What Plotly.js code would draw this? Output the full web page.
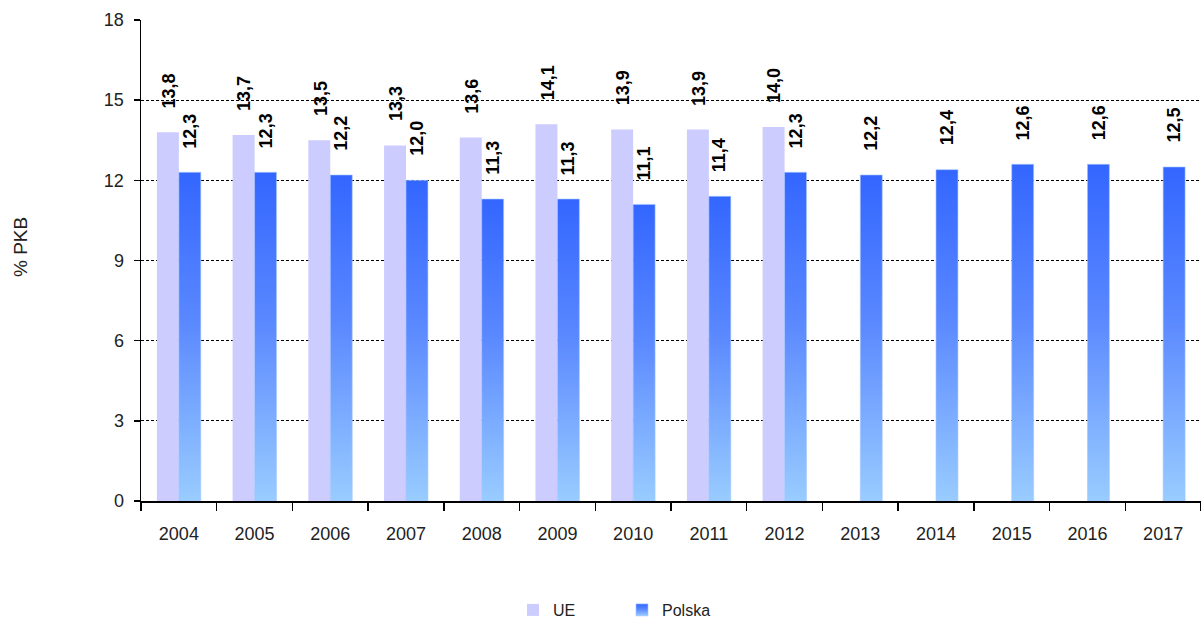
<!DOCTYPE html>
<html>
<head>
<meta charset="utf-8">
<script src="https://cdn.plot.ly/plotly-3.0.1.min.js"></script>
<style>html,body{margin:0;padding:0;background:#fff;}#chart{width:1201px;height:624px;}</style>
</head>
<body>
<div id="chart"></div>
<script>
const years = ['2004','2005','2006','2007','2008','2009','2010','2011','2012','2013','2014','2015','2016','2017'];
const ue = [13.8,13.7,13.5,13.3,13.6,14.1,13.9,13.9,14.0,null,null,null,null,null];
const polska = [12.3,12.3,12.2,12.0,11.3,11.3,11.1,11.4,12.3,12.2,12.4,12.6,12.6,12.5];
const yTicks = [0,3,6,9,12,15,18];
const seriesNames = ['UE','Polska'];
const yTitle = '% PKB';

const fmt = v => v.toFixed(1).replace('.', ',');
const regular = 'Liberation Sans, Arial, sans-serif';

const traces = [
  {type:'bar', name:seriesNames[0], x:years, y:ue, marker:{color:'#CCCCFF', line:{width:0}}, hoverinfo:'x+y'},
  {type:'bar', name:seriesNames[1], x:years, y:polska, marker:{color:'#5F8CFF', line:{width:0.6, color:'#A8C8FF'}}, hoverinfo:'x+y'}
];

const annotations = [];
[[ue,-10],[polska,11]].forEach(([arr,dx]) => {
  arr.forEach((v,i) => {
    if (v === null) return;
    annotations.push({
      x: i, y: v, xref:'x', yref:'y', text: fmt(v), showarrow:false,
      textangle:-90, xanchor:'center', yanchor:'bottom', xshift:dx, yshift:22,
      font:{family:regular, size:18, color:'#000', weight:'bold'}
    });
  });
});
annotations.push({
  text: yTitle, xref:'paper', yref:'paper', x:(20-141)/1060, y:(501-247)/481,
  showarrow:false, textangle:-90, xanchor:'center', yanchor:'middle',
  font:{family:regular, size:19, color:'#222'}
});

const layout = {
  width:1201, height:624,
  margin:{l:141, r:0, t:20, b:123},
  paper_bgcolor:'#fff', plot_bgcolor:'#fff',
  separators:', ',
  barmode:'group', bargap:0.42, bargroupgap:0,
  showlegend:true,
  legend:{orientation:'h', xref:'container', yref:'container', x:513/1201, xanchor:'left', y:(624-610)/624, yanchor:'middle',
          font:{family:regular, size:16, color:'#222'}, entrywidth:64, entrywidthmode:'pixels', bgcolor:'rgba(0,0,0,0)'},
  xaxis:{type:'category', range:[-0.5, years.length-0.5], autorange:false, showgrid:false, showline:true, linecolor:'#000', linewidth:1.5,
         ticks:'outside', tickson:'boundaries', ticklen:8, tickcolor:'#000', tickwidth:1.5, tickangle:0,
         tickfont:{family:regular, size:18, color:'#222'}, ticklabelstandoff:16, zeroline:false, fixedrange:true},
  yaxis:{range:[0,18], autorange:false, tickvals:yTicks, ticktext:yTicks.map(String), showgrid:true, gridcolor:'#000', gridwidth:1, griddash:'3px,2px',
         showline:true, linecolor:'#000', linewidth:1.5, ticks:'outside', ticklen:6, tickcolor:'#000', tickwidth:1.5,
         tickfont:{family:regular, size:18, color:'#222'}, ticklabelstandoff:6, zeroline:false, fixedrange:true},
  annotations: annotations
};

Plotly.newPlot('chart', traces, layout, {displayModeBar:false, staticPlot:true}).then(gd => {
  const svg = gd.querySelector('.main-svg');
  const ns = 'http://www.w3.org/2000/svg';
  let defs = svg.querySelector('defs');
  if (!defs) { defs = document.createElementNS(ns,'defs'); svg.insertBefore(defs, svg.firstChild); }
  const g = document.createElementNS(ns,'linearGradient');
  g.setAttribute('id','plGrad'); g.setAttribute('x1','0'); g.setAttribute('y1','0'); g.setAttribute('x2','0'); g.setAttribute('y2','1');
  [['0','#3366FF'],['0.45','#5A88FF'],['1','#99CCFF']].forEach(([o,c]) => {
    const s = document.createElementNS(ns,'stop'); s.setAttribute('offset',o); s.setAttribute('stop-color',c); g.appendChild(s);
  });
  defs.appendChild(g);
  const barTraces = gd.querySelectorAll('.barlayer .trace');
  if (barTraces[1]) barTraces[1].querySelectorAll('path').forEach(p => { p.style.fill = 'url(#plGrad)'; });
  const legTraces = gd.querySelectorAll('.legend .traces');
  if (legTraces[1]) legTraces[1].querySelectorAll('.legendpoints path').forEach(p => { p.style.fill = 'url(#plGrad)'; });
});
</script>
</body>
</html>
